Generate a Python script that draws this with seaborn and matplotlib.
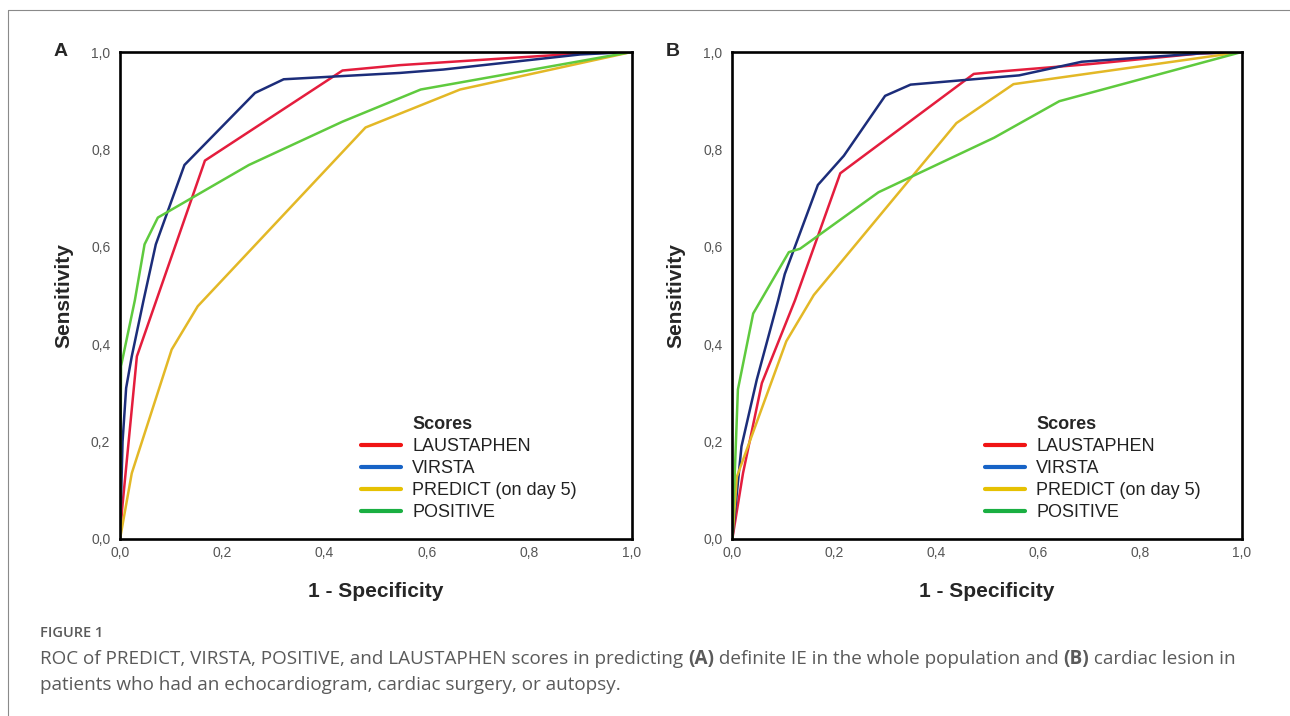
import numpy as np
import pandas as pd
import matplotlib
matplotlib.use("Agg")
import matplotlib.pyplot as plt
from matplotlib.lines import Line2D
from matplotlib.ticker import FuncFormatter
import seaborn as sns

# ---- data ----
scores = ["LAUSTAPHEN", "VIRSTA", "PREDICT (on day 5)", "POSITIVE"]

# Panel A: definite IE in the whole population
laus_a_x = [0, 0.004, 0.033, 0.166, 0.435, 0.547, 0.90, 1]
laus_a_y = [0, 0.06, 0.375, 0.777, 0.962, 0.973, 0.997, 1]
virsta_a_x = [0, 0.005, 0.012, 0.023, 0.046, 0.070, 0.126, 0.264, 0.320, 0.547, 0.632, 0.90, 1]
virsta_a_y = [0, 0.20, 0.31, 0.375, 0.49, 0.605, 0.768, 0.916, 0.944, 0.957, 0.964, 0.995, 1]
predict_a_x = [0, 0.023, 0.101, 0.152, 0.480, 0.665, 1]
predict_a_y = [0, 0.135, 0.389, 0.478, 0.845, 0.923, 1]
positive_a_x = [0, 0.002, 0.029, 0.048, 0.074, 0.252, 0.435, 0.588, 1]
positive_a_y = [0, 0.355, 0.49, 0.605, 0.66, 0.768, 0.857, 0.923, 1]

# Panel B: cardiac lesion (echocardiogram, surgery or autopsy)
laus_b_x = [0, 0.021, 0.058, 0.123, 0.212, 0.474, 0.525, 0.70, 0.918, 1]
laus_b_y = [0, 0.135, 0.32, 0.49, 0.751, 0.955, 0.960, 0.975, 0.997, 1]
virsta_b_x = [0, 0.018, 0.048, 0.090, 0.103, 0.168, 0.219, 0.300, 0.350, 0.563, 0.686, 0.918, 1]
virsta_b_y = [0, 0.19, 0.327, 0.49, 0.544, 0.727, 0.787, 0.910, 0.933, 0.952, 0.980, 0.997, 1]
predict_b_x = [0, 0.009, 0.106, 0.160, 0.440, 0.552, 1]
predict_b_y = [0, 0.128, 0.406, 0.501, 0.854, 0.934, 1]
positive_b_x = [0, 0.011, 0.041, 0.111, 0.133, 0.287, 0.514, 0.642, 1]
positive_b_y = [0, 0.307, 0.463, 0.589, 0.596, 0.712, 0.824, 0.899, 1]

ticks = [0.0, 0.2, 0.4, 0.6, 0.8, 1.0]

curve_colors = ["#e41d3d", "#1c2d7a", "#e3b826", "#5fca3e"]
legend_colors = ["#f01414", "#1763c6", "#e6c102", "#1aaf42"]


def make_frame(curves):
    rows = []
    for name, (xs, ys) in zip(scores, curves):
        rows.append(pd.DataFrame({"fpr": xs, "tpr": ys, "score": name}))
    return pd.concat(rows, ignore_index=True)


df_a = make_frame([(laus_a_x, laus_a_y), (virsta_a_x, virsta_a_y),
                   (predict_a_x, predict_a_y), (positive_a_x, positive_a_y)])
df_b = make_frame([(laus_b_x, laus_b_y), (virsta_b_x, virsta_b_y),
                   (predict_b_x, predict_b_y), (positive_b_x, positive_b_y)])

sns.set_style("white")
plt.rcParams["font.family"] = ["Liberation Sans", "DejaVu Sans"]

fig = plt.figure(figsize=(12.9, 7.16), dpi=100)
W, H = 1290, 716

ax_a = fig.add_axes([120 / W, 177 / H, 511.5 / W, 487 / H])
ax_b = fig.add_axes([732.3 / W, 177 / H, 509.4 / W, 487 / H])

comma = FuncFormatter(lambda v, p: f"{v:.1f}".replace(".", ","))

for ax, df, letter, leg_x in [(ax_a, df_a, "A", 0.471), (ax_b, df_b, "B", 0.496)]:
    sns.lineplot(data=df, x="fpr", y="tpr", hue="score", palette=curve_colors,
                 hue_order=scores, estimator=None, sort=False, linewidth=1.8,
                 legend=False, ax=ax)
    ax.set_xlim(0, 1)
    ax.set_ylim(0, 1)
    ax.set_xticks(ticks)
    ax.set_yticks(ticks)
    ax.xaxis.set_major_formatter(comma)
    ax.yaxis.set_major_formatter(comma)
    ax.tick_params(length=0, labelsize=10, labelcolor="#555555")
    ax.tick_params(axis="y", pad=7)
    ax.tick_params(axis="x", pad=5)
    for s in ax.spines.values():
        s.set_color("black")
        s.set_linewidth(1.9)
    ax.set_xlabel("1 - Specificity", fontsize=15, fontweight="bold")
    ax.set_ylabel("Sensitivity", fontsize=15, fontweight="bold")
    ax.xaxis.set_label_coords(0.5, -0.088)
    ax.yaxis.set_label_coords(-0.092, 0.5)
    ax.text(-0.116, 1.0, letter, transform=ax.transAxes, fontsize=14,
            fontweight="bold", ha="center", va="center")

    handles = [Line2D([], [], color="none")]
    handles += [Line2D([], [], color=c, lw=3) for c in legend_colors]
    leg = ax.legend(handles, ["Scores"] + scores, loc="upper left",
                    bbox_to_anchor=(leg_x, 0.253), frameon=False, fontsize=13,
                    handlelength=2.2, handletextpad=0.65, labelspacing=0.28,
                    borderpad=0, borderaxespad=0)
    leg.get_texts()[0].set_fontweight("bold")
    for t in leg.get_texts()[1:]:
        t.set_color("#222222")

# thin frame of the figure box
fig.add_artist(Line2D([8 / W, 1], [1 - 10 / H, 1 - 10 / H], color="#8a8a8a", lw=0.8))
fig.add_artist(Line2D([8 / W, 8 / W], [0, 1 - 10 / H], color="#8a8a8a", lw=0.8))

# caption
cap_color = "#5a5a5a"
fig.text(40 / W, 1 - 637 / H, "FIGURE 1", fontsize=10.5, color=cap_color,
         family="Open Sans", fontweight="semibold", va="baseline")

renderer = fig.canvas.get_renderer()


def caption_line(x_px, y_px, parts, size=13.6):
    x = x_px / W
    for txt, weight in parts:
        t = fig.text(x, 1 - y_px / H, txt, fontsize=size, color=cap_color,
                     family="Open Sans", fontweight=weight, va="baseline")
        w = t.get_window_extent(renderer=renderer).width
        x += w / W


caption_line(40, 664, [
    ("ROC of PREDICT, VIRSTA, POSITIVE, and LAUSTAPHEN scores in predicting ", "normal"),
    ("(A)", "bold"),
    (" definite IE in the whole population and ", "normal"),
    ("(B)", "bold"),
    (" cardiac lesion in", "normal"),
])
caption_line(40, 690, [
    ("patients who had an echocardiogram, cardiac surgery, or autopsy.", "normal"),
])

fig.savefig("out.png", dpi=100, facecolor="white")
